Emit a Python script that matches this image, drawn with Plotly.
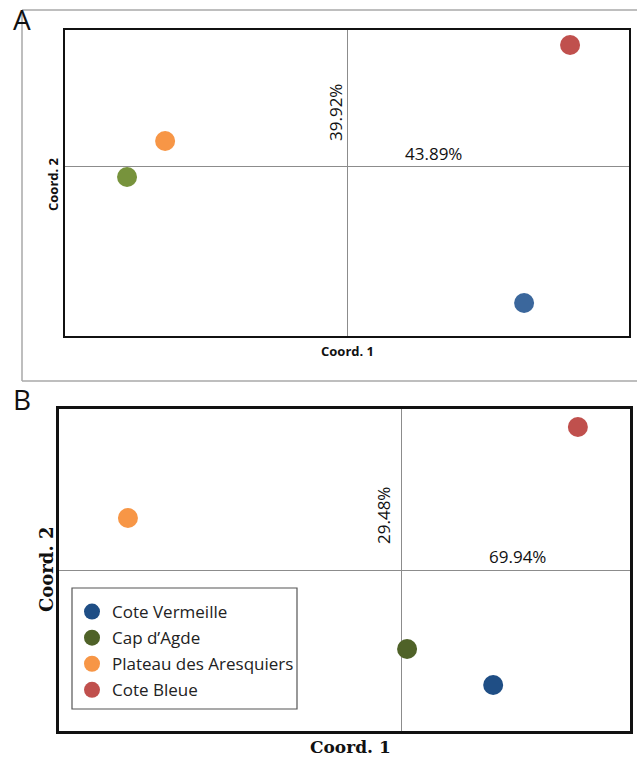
import plotly.graph_objects as go

W, H = 637, 758

# ---- data ----
sites = ["Cote Vermeille", "Cap d\u2019Agde", "Plateau des Aresquiers", "Cote Bleue"]
colors_a = ["#3B679C", "#77933C", "#F79646", "#C0504D"]
colors_b = ["#1F4E85", "#4F6228", "#F79646", "#C0504D"]

a_coord1 = [0.628, -0.780, -0.645, 0.791]
a_coord2 = [-0.806, -0.065, 0.147, 0.712]
a_pct1, a_pct2 = "43.89%", "39.92%"

b_coord1 = [0.266, 0.015, -0.799, 0.513]
b_coord2 = [-0.714, -0.491, 0.323, 0.888]
b_pct1, b_pct2 = "69.94%", "29.48%"


def px(x):
    return x / W


def py(y):
    return 1 - y / H


fig = go.Figure()

for i, s in enumerate(sites):
    fig.add_trace(go.Scatter(
        x=[a_coord1[i]], y=[a_coord2[i]], mode="markers", name=s,
        marker=dict(size=20, color=colors_a[i]), showlegend=False,
        xaxis="x", yaxis="y"))

for i, s in enumerate(sites):
    fig.add_trace(go.Scatter(
        x=[b_coord1[i]], y=[b_coord2[i]], mode="markers", name=s,
        marker=dict(size=20, color=colors_b[i]), showlegend=True,
        legendgroup=s, xaxis="x2", yaxis="y2"))

ax_common = dict(showgrid=False, zeroline=True, zerolinecolor="#8c8c8c",
                 zerolinewidth=1.3, showticklabels=False, ticks="",
                 showline=True, mirror=True, linecolor="#111111", fixedrange=True)

fig.update_layout(
    width=W, height=H, autosize=False,
    margin=dict(l=0, r=0, t=0, b=0),
    paper_bgcolor="white", plot_bgcolor="white",
    font=dict(family="Open Sans", color="#111111"),
    xaxis=dict(domain=[px(65), px(629)], range=[-1, 1], anchor="y",
               linewidth=1.8, **ax_common),
    yaxis=dict(domain=[py(336), py(30)], range=[-1, 0.8], anchor="x",
               linewidth=1.8, **ax_common),
    xaxis2=dict(domain=[px(59), px(630)], range=[-1, 0.665], anchor="y2",
                linewidth=3, **ax_common),
    yaxis2=dict(domain=[py(731), py(409)], range=[-1, 1], anchor="x2",
                linewidth=3, **ax_common),
    legend=dict(x=px(72), y=py(594), xanchor="left", yanchor="top",
                bgcolor="rgba(0,0,0,0)", borderwidth=0,
                font=dict(family="Open Sans", size=17, color="#222222"),
                tracegroupgap=1, itemsizing="trace"),
)

# legend frame
fig.add_shape(type="rect", xref="paper", yref="paper",
              x0=px(72), x1=px(297), y0=py(709), y1=py(588),
              line=dict(color="#555555", width=1.2), fillcolor="white",
              layer="below")

# outer grey frame of panel A
frame = dict(type="line", xref="paper", yref="paper",
             line=dict(color="#a8a8a8", width=1.5))
fig.add_shape(x0=px(22), x1=1.01, y0=py(10), y1=py(10), **frame)
fig.add_shape(x0=px(22), x1=px(22), y0=py(10), y1=py(381), **frame)
fig.add_shape(x0=px(22), x1=1.01, y0=py(381), y1=py(381), **frame)


def ann(text, x, y, size, angle=0, family="Open Sans", bold=False):
    fig.add_annotation(
        text=("<b>%s</b>" % text) if bold else text,
        x=px(x), y=py(y), xref="paper", yref="paper",
        xanchor="center", yanchor="middle", showarrow=False,
        textangle=angle, font=dict(family=family, size=size, color="#111111"))


ann("A", 22, 19, 28)
ann("B", 22, 399, 28)

ann(a_pct2, 335, 113, 17, angle=-90)
ann(a_pct1, 433, 154, 17)
ann("Coord. 1", 347, 351, 13, bold=True)
ann("Coord. 2", 53, 184, 13, angle=-90, bold=True)

ann(b_pct2, 383, 516, 17, angle=-90)
ann(b_pct1, 517, 556, 17)
ann("Coord. 1", 351, 747, 17, family="DejaVu Serif", bold=True)
ann("Coord. 2", 46, 570, 18, angle=-90, family="DejaVu Serif", bold=True)

fig.write_html(
    "out.html",
    config={"displayModeBar": False},
    post_script="document.body.style.margin='0';document.body.style.overflow='hidden';")
